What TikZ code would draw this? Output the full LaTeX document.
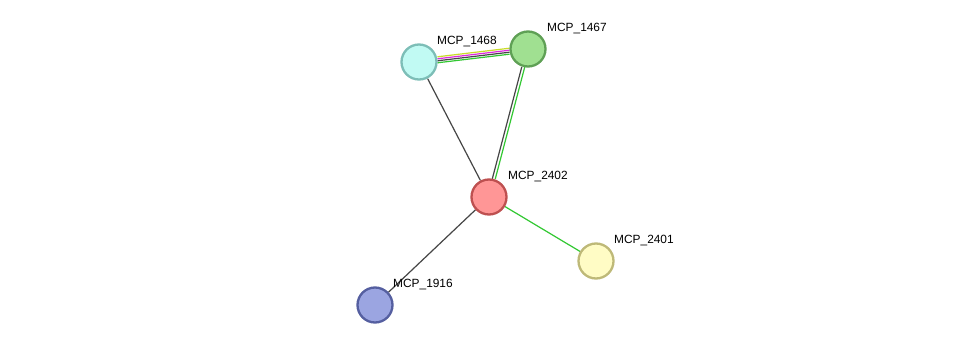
\documentclass[tikz,border=0pt]{standalone}
\usepackage{fontspec}
\setmainfont{Liberation Sans}
\usepackage{tikz}
\usetikzlibrary{positioning,backgrounds}
\definecolor{edgegray}{RGB}{70,70,70}
\definecolor{edgegreen}{RGB}{50,200,50}
\definecolor{edgeyellow}{RGB}{200,220,40}
\definecolor{edgepink}{RGB}{220,40,220}
\tikzset{
  prot/.style={circle, line width=2.3pt, minimum size=35pt, inner sep=0pt},
  plabel/.style={font=\fontsize{11.9}{12}\selectfont, inner sep=1pt, anchor=south west},
  link/.style={line width=1.2pt}
}

\begin{document}
\begin{tikzpicture}[x=1pt,y=-1pt]
  % cadre de la figure
  \useasboundingbox (0,0) rectangle (975,351);

  % Protéines
  \node[prot, draw={rgb,255:red,125;green,190;blue,183}, fill={rgb,255:red,193;green,250;blue,243}] (p1468) at (419,62) {};
  \node[prot, draw={rgb,255:red,95;green,160;blue,85}, fill={rgb,255:red,160;green,224;blue,145}] (p1467) at (528,49) {};
  \node[prot, draw={rgb,255:red,190;green,80;blue,80}, fill={rgb,255:red,255;green,150;blue,150}] (p2402) at (489,197) {};
  \node[prot, draw={rgb,255:red,190;green,185;blue,120}, fill={rgb,255:red,255;green,252;blue,197}] (p2401) at (596,261) {};
  \node[prot, draw={rgb,255:red,85;green,95;blue,160}, fill={rgb,255:red,155;green,165;blue,225}] (p1916) at (375,305) {};

  % Étiquettes
  \node[plabel] (l1468) at (436,48) {MCP\_1468};
  \node[plabel] (l1467) at (546,35) {MCP\_1467};
  \node[plabel] (l2402) at (507,183) {MCP\_2402};
  \node[plabel] (l2401) at (613,247) {MCP\_2401};
  \node[plabel] (l1916) at (392,291) {MCP\_1916};

  % Liens (derrière les noeuds)
  \begin{scope}[on background layer]
    \fill[white] (0,0) rectangle (975,351);
    \draw[link, edgeyellow, transform canvas={yshift=3pt}] (p1468) -- (p1467);
    \draw[link, edgepink, transform canvas={yshift=1pt}] (p1468) -- (p1467);
    \draw[link, edgegray, transform canvas={yshift=-1pt}] (p1468) -- (p1467);
    \draw[link, edgegreen, transform canvas={yshift=-3pt}] (p1468) -- (p1467);
    \draw[link, edgegray, transform canvas={xshift=-1.5pt}] (p1467) -- (p2402);
    \draw[link, edgegreen, transform canvas={xshift=1.5pt}] (p1467) -- (p2402);
    \draw[link, edgegray] (p1468) -- (p2402);
    \draw[link, edgegray] (p2402) -- (p1916);
    \draw[link, edgegreen] (p2402) -- (p2401);
  \end{scope}
\end{tikzpicture}
\end{document}
